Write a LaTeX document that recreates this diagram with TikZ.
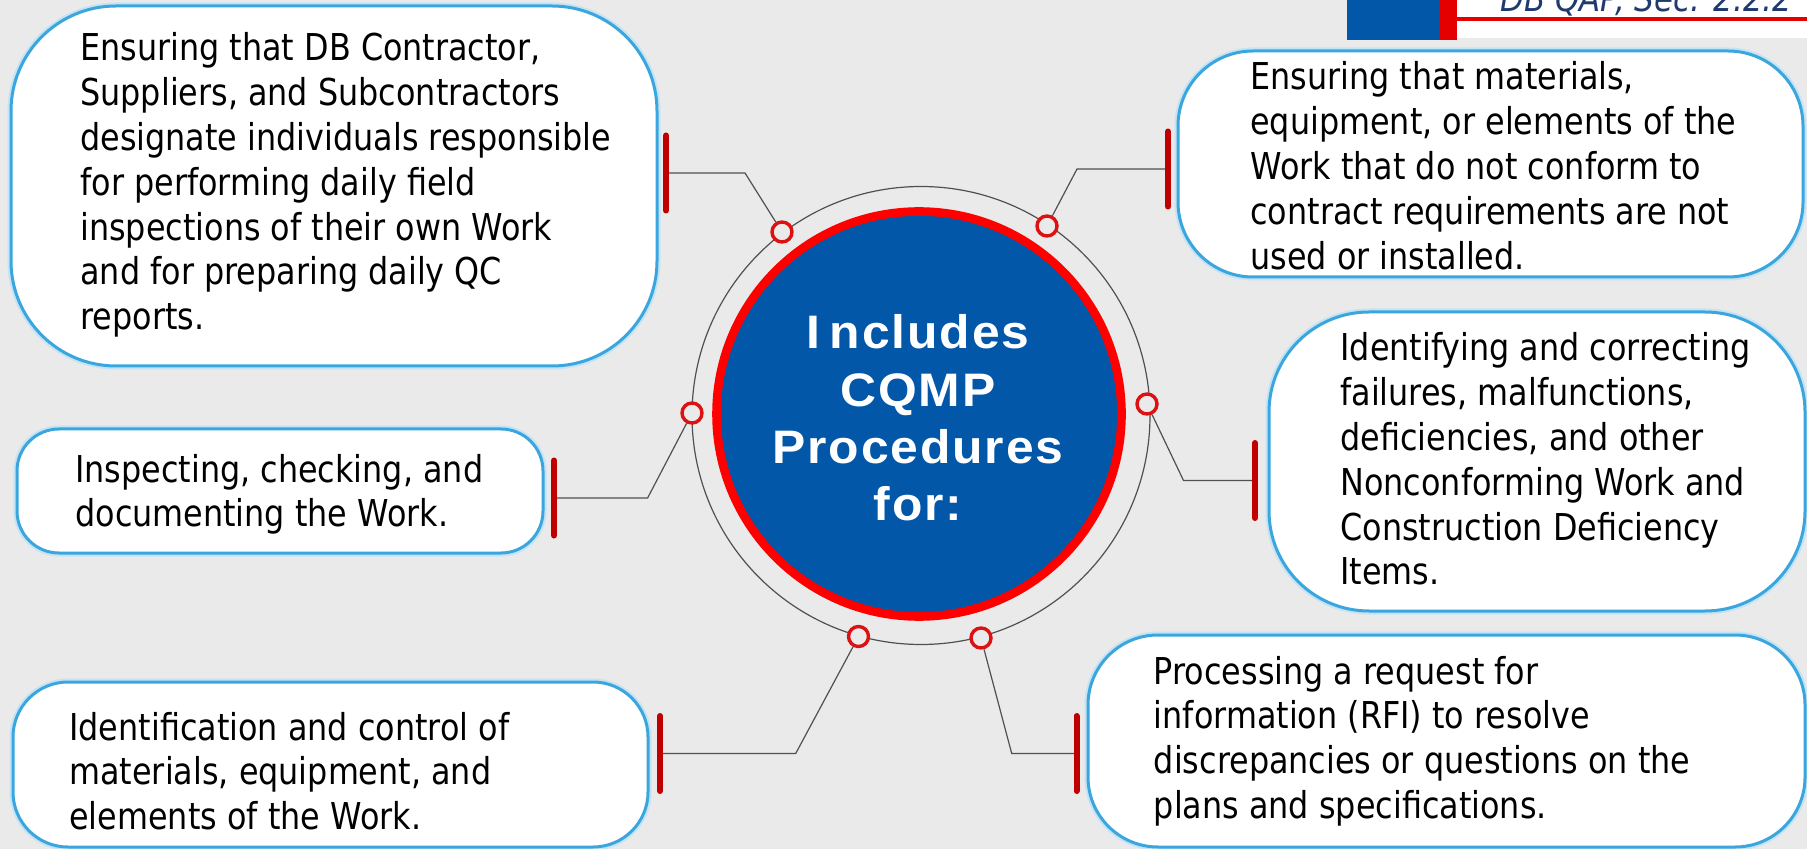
\documentclass[tikz,border=0pt]{standalone}
\usepackage{fontspec}
\setmainfont{DejaVu Sans}[FakeStretch=0.86]
\newfontfamily\titlefont{Liberation Sans}[LetterSpace=4,FakeStretch=1.06]
\usetikzlibrary{calc}
\definecolor{bg}{HTML}{EAEAEA}
\definecolor{hubblue}{HTML}{0357A8}
\definecolor{ringred}{HTML}{FF0000}
\definecolor{dotred}{HTML}{DD1111}
\definecolor{barred}{HTML}{C00000}
\definecolor{boxblue}{HTML}{3AA6DD}
\definecolor{linegray}{HTML}{505050}
\definecolor{navy}{HTML}{1F3A6E}
\newcommand\mlines[1]{\begin{tabular}[t]{@{}l@{}}#1\end{tabular}}
\begin{document}
\begin{tikzpicture}[x=0.5pt,y=-0.5pt,
  box/.style={draw=boxblue, line width=1.5pt, fill=white, rounded corners=#1,
    inner sep=0pt, preaction={draw=boxblue!30, line width=3.5pt}},
  txt/.style={anchor=base west, inner sep=0pt, text=black,
    font=\fontsize{18.5pt}{22.4pt}\selectfont},
  dot/.style={circle, draw=dotred, line width=1.7pt, fill=bg, minimum size=10pt, inner sep=0pt},
  conn/.style={draw=linegray, line width=0.6pt},
  barline/.style={draw=barred, line width=3pt, line cap=round}]
\useasboundingbox (0,0) rectangle (1807,849);
\fill[bg] (0,0) rectangle (1807,849);

% header
\fill[hubblue] (1347,0) rectangle (1440,40);
\fill[ringred!90!black] (1440,0) rectangle (1457,40);
\fill[white] (1457,0) rectangle (1807,38);
\draw[ringred!90!black, line width=1.6pt] (1457,19) -- (1807,19);
\node[anchor=base west, inner sep=0pt, text=navy,
  font=\itshape\fontsize{18pt}{20pt}\selectfont] (hdr) at (1500,12) {DB QAP, Sec. 2.2.2};

% outer thin ring
\draw[conn] (921,415.5) circle[radius=114.5pt];

% coordinates
\coordinate (k1) at (745,173);    \coordinate (b1) at (666,173);
\coordinate (k2) at (1077,169);   \coordinate (b2) at (1168,169);
\coordinate (k3) at (647.6,498);  \coordinate (b3) at (554,498);
\coordinate (k4) at (1183.5,480.5); \coordinate (b4) at (1255,480.5);
\coordinate (k5) at (795.7,753.5); \coordinate (b5) at (660,753.5);
\coordinate (k6) at (1011.7,753.5); \coordinate (b6) at (1076.5,753.5);

% dots
\node[dot] (c1) at (782,232) {};
\node[dot] (c2) at (1047,226) {};
\node[dot] (c3) at (692,413) {};
\node[dot] (c4) at (1147,404) {};
\node[dot] (c5) at (858.5,636.5) {};
\node[dot] (c6) at (981,638) {};

% connectors
\draw[conn] (c1) -- (k1) -- (b1);
\draw[conn] (c2) -- (k2) -- (b2);
\draw[conn] (c3) -- (k3) -- (b3);
\draw[conn] (c4) -- (k4) -- (b4);
\draw[conn] (c5) -- (k5) -- (b5);
\draw[conn] (c6) -- (k6) -- (b6);

% bars
\foreach \b in {b1,b2,b3,b4,b5,b6}
  \draw[barline] ($(\b)+(0,-37.5)$) -- ($(\b)+(0,37.5)$);

% hub
\node[circle, fill=hubblue, draw=ringred, line width=4.3pt, minimum size=202.5pt, inner sep=0pt] (hub) at (919,414) {};
\node[text=white, align=center, inner sep=0pt,
  font=\titlefont\bfseries\fontsize{23.5pt}{28.7pt}\selectfont] (title) at (918,418)
  {I\hspace{0.2em}ncludes\\CQMP\\Procedures\\for:};

% boxes
\node[box=52.5pt, minimum width=323pt, minimum height=180pt] (boxA) at (334,186) {};
\node[box=37.5pt, minimum width=312.5pt, minimum height=113pt] (boxB) at (1490.5,164) {};
\node[box=21pt, minimum width=263pt, minimum height=62pt] (boxC) at (280,491) {};
\node[box=50pt, minimum width=268pt, minimum height=149.5pt] (boxD) at (1537,461.5) {};
\node[box=27.5pt, minimum width=317.5pt, minimum height=82.5pt] (boxE) at (330.5,764.5) {};
\node[box=35pt, minimum width=358.5pt, minimum height=106pt] (boxF) at (1446.5,741) {};

% texts
\node[txt] (tA) at (80,61) {\mlines{Ensuring that DB Contractor,\\Suppliers, and Subcontractors\\designate individuals responsible\\for performing daily field\\inspections of their own Work\\and for preparing daily QC\\reports.}};
\node[txt] (tB) at (1250,90) {\mlines{Ensuring that materials,\\equipment, or elements of the\\Work that do not conform to\\contract requirements are not\\used or installed.}};
\node[txt] (tC) at (75,482) {\mlines{Inspecting, checking, and\\documenting the Work.}};
\node[txt] (tD) at (1340,361) {\mlines{Identifying and correcting\\failures, malfunctions,\\deficiencies, and other\\Nonconforming Work and\\Construction Deficiency\\Items.}};
\node[txt] (tE) at (69,740) {\mlines{Identification and control of\\materials, equipment, and\\elements of the Work.}};
\node[txt] (tF) at (1153.5,684) {\mlines{Processing a request for\\information (RFI) to resolve\\discrepancies or questions on the\\plans and specifications.}};
\end{tikzpicture}
\end{document}
